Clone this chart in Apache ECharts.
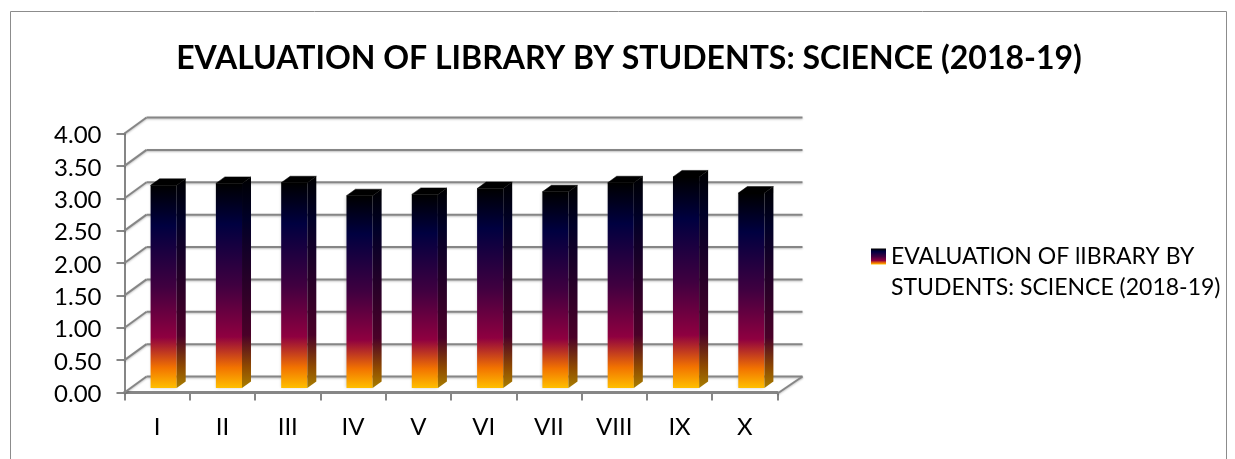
<!DOCTYPE html>
<html>
<head>
<meta charset="utf-8">
<title>Evaluation of library by students</title>
<style>
  html, body { margin: 0; padding: 0; background: #fff; }
  #main { width: 1235px; height: 459px; }
</style>
<script src="https://cdn.jsdelivr.net/npm/echarts@6/dist/echarts.min.js"></script>
</head>
<body>
<div id="main"></div>
<script>
const categories = ['I', 'II', 'III', 'IV', 'V', 'VI', 'VII', 'VIII', 'IX', 'X'];
const scores = [3.13, 3.16, 3.17, 2.97, 2.99, 3.08, 3.03, 3.17, 3.26, 3.01];
const yTicks = [0, 0.5, 1, 1.5, 2, 2.5, 3, 3.5, 4];
const titleText = 'EVALUATION OF LIBRARY BY STUDENTS: SCIENCE (2018-19)';
const seriesName = 'EVALUATION OF lIBRARY BY\nSTUDENTS: SCIENCE (2018-19)';

const FONT = 'Lato, "Open Sans", sans-serif';
const GRID_COLOR = '#868686';

// the 3d look: how far the back wall and the bars sit behind the front plane
const WALL_DX = 22, WALL_DY = 16;
const BAR_DX = 6.5, BAR_DY = 4.5;
const SIDE_DX = 9, SIDE_DY = 6.5;

function sunset(stops) {
    return new echarts.graphic.LinearGradient(0, 0, 0, 1, stops.map((c, i) => ({
        offset: [0, 0.2, 0.5, 0.75, 0.9, 1][i],
        color: c
    })));
}
const frontFill = () => sunset(['#000000', '#000040', '#400040', '#8f0040', '#f27300', '#ffbf00']);
const sideFill = () => sunset(['#000000', '#000028', '#280028', '#4a0028', '#8f4a00', '#a87e00']);

function renderWall(params, api) {
    const tick = api.value(1);
    const p = api.coord([0, tick]);
    const cs = params.coordSys;
    const left = cs.x, right = cs.x + cs.width;
    const line = { stroke: GRID_COLOR, lineWidth: 2, shadowBlur: 2, shadowColor: 'rgba(0,0,0,0.25)', shadowOffsetY: 1 };
    const children = [
        { type: 'line', shape: { x1: left, y1: p[1], x2: left + WALL_DX, y2: p[1] - WALL_DY }, style: line },
        { type: 'line', shape: { x1: left + WALL_DX, y1: p[1] - WALL_DY, x2: right + 25, y2: p[1] - WALL_DY }, style: line }
    ];
    if (tick === 0) {
        children.push({ type: 'line', shape: { x1: right, y1: p[1] + 1, x2: right + 25, y2: p[1] - WALL_DY }, style: line });
    }
    return { type: 'group', children };
}

function renderBar(params, api) {
    const i = api.value(0);
    const top = api.coord([i, api.value(1)]);
    const base = api.coord([i, 0]);
    const w = api.size([1, 0])[0] * 0.4;
    const x0 = top[0] - w / 2 + BAR_DX;
    const x1 = x0 + w;
    const yT = top[1] - BAR_DY;
    const yB = base[1] - BAR_DY;
    return {
        type: 'group',
        children: [
            { type: 'rect', shape: { x: x0, y: yT, width: w, height: yB - yT }, style: { fill: frontFill(), shadowBlur: 3, shadowColor: 'rgba(120,120,120,0.4)' } },
            { type: 'polygon', shape: { points: [[x1, yT], [x1 + SIDE_DX, yT - SIDE_DY], [x1 + SIDE_DX, yB - SIDE_DY], [x1, yB]] }, style: { fill: sideFill() } },
            { type: 'polygon', shape: { points: [[x0, yT], [x0 + SIDE_DX, yT - SIDE_DY], [x1 + SIDE_DX, yT - SIDE_DY], [x1, yT]] }, style: { fill: '#000000', stroke: '#000000', lineWidth: 0.5 } }
        ]
    };
}

const myChart = echarts.init(document.getElementById('main'), null, { renderer: 'canvas' });
myChart.setOption({
    animation: false,
    backgroundColor: '#ffffff',
    graphic: [{
        type: 'rect',
        silent: true,
        z: -1,
        shape: { x: 10.5, y: 11.5, width: 1216, height: 470 },
        style: { fill: 'none', stroke: '#8c8c8c', lineWidth: 1 }
    }],
    title: {
        text: titleText,
        left: 624,
        top: 38,
        textAlign: 'center',
        textStyle: { fontFamily: FONT, fontSize: 32, fontWeight: 'bold', color: '#000' }
    },
    legend: {
        show: true,
        data: [seriesName],
        left: 866,
        top: 205,
        icon: 'rect',
        itemWidth: 15,
        itemHeight: 16,
        itemGap: 0,
        // leading blank line keeps the swatch level with the first text line
        formatter: name => '\n' + name,
        textStyle: { fontFamily: FONT, fontSize: 23, lineHeight: 31, color: '#000' }
    },
    grid: { left: 124.5, top: 133.5, width: 653, height: 259 },
    xAxis: {
        type: 'category',
        data: categories,
        axisLine: { lineStyle: { color: GRID_COLOR, width: 3 } },
        axisTick: { show: true, length: 8, lineStyle: { color: GRID_COLOR, width: 2 } },
        axisLabel: { fontFamily: FONT, fontSize: 24, color: '#000', margin: 23 }
    },
    yAxis: {
        type: 'value',
        min: 0,
        max: 4,
        interval: 0.5,
        axisLine: { show: true, lineStyle: { color: GRID_COLOR, width: 2 } },
        axisTick: { show: true, length: 8, lineStyle: { color: GRID_COLOR, width: 2 } },
        splitLine: { show: false },
        axisLabel: {
            margin: 23,
            formatter: v => '{t|' + v.toFixed(2) + '}',
            // nudges the numbers a little below their tick, as in the picture
            rich: { t: { fontFamily: FONT, fontSize: 24, color: '#000', padding: [4, 0, 0, 0] } }
        }
    },
    series: [
        {
            name: 'wall',
            type: 'custom',
            renderItem: renderWall,
            silent: true,
            clip: false,
            z: 1,
            encode: { x: 0, y: 1 },
            data: yTicks.map(t => [0, t])
        },
        {
            name: seriesName,
            type: 'custom',
            renderItem: renderBar,
            clip: false,
            z: 3,
            itemStyle: { color: frontFill() },
            encode: { x: 0, y: 1 },
            data: scores.map((v, i) => [i, v])
        }
    ]
});
</script>
</body>
</html>
